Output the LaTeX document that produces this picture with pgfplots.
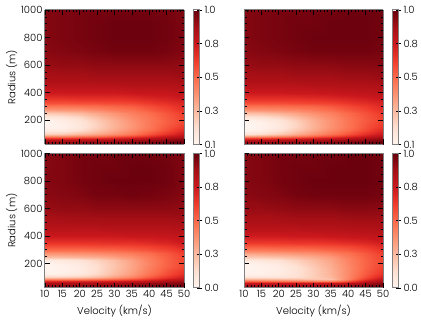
\documentclass[border=0pt]{standalone}
\usepackage{fontspec}
\setmainfont{Poppins Light}
\usepackage{pgfplots}
\pgfplotsset{compat=1.18}

\pgfplotsset{
  colormap={reds}{rgb255=(255,245,240) rgb255=(254,224,210) rgb255=(252,187,161) rgb255=(252,146,114) rgb255=(251,106,74) rgb255=(239,59,44) rgb255=(203,24,29) rgb255=(165,15,21) rgb255=(103,0,13)},
  panel/.style={
    scale only axis, width=139pt, height=134.5pt, anchor=south west,
    view={0}{90}, colormap name=reds,
    xmin=10, xmax=50, ymin=22, ymax=1000,
    xtick={10,15,...,50}, ytick={200,400,...,1000},
    minor x tick num=4, minor y tick num=3,
    tick align=inside, tick pos=both,
    major tick length=5pt, minor tick length=2.5pt,
    tick style={black, line width=0.6pt},
    axis line style={gray, line width=1pt},
    axis on top,
    tick label style={font=\fontsize{10}{10}\selectfont},
    label style={font=\fontsize{10}{10}\selectfont},
    /pgf/number format/assume math mode=true,
    /pgf/number format/1000 sep={},
    xticklabel style={yshift=1pt},
    yticklabel style={xshift=1pt},
    ylabel shift=-3pt,
    colorbar,
  },
  cbar/.style 2 args={
    colorbar style={
      at={(parent axis.north east)}, anchor=north west,
      width=6.5pt, xshift=0.5pt,
      ytick={#1}, yticklabels={#2},
      tick pos=right, tick align=center, major tick length=5pt,
      tick style={black, line width=0.6pt},
      axis line style={gray, line width=1pt},
      yticklabel style={font=\fontsize{10}{10}\selectfont, xshift=-1pt},
    },
  },
}

\begin{document}
\begin{tikzpicture}[x=1pt,y=1pt]
\path[use as bounding box] (0,0) rectangle (421,321);

\begin{axis}[panel, at={(45pt,176.5pt)}, xticklabels={}, ylabel={Radius (m)}, point meta min=0.1, point meta max=1,
  cbar={0.1,0.325,0.55,0.775,1}{0.1,0.3,0.5,0.8,1.0}]
\addplot3[surf, shader=interp, mesh/cols=9, point meta=z] coordinates {
(10,22,.93) (15,22,.93) (20,22,.93) (25,22,.94) (30,22,.95) (35,22,.96) (40,22,.97) (45,22,.99) (50,22,1)
(10,40,.91) (15,40,.91) (20,40,.91) (25,40,.92) (30,40,.93) (35,40,.94) (40,40,.95) (45,40,.97) (50,40,.99)
(10,55,.84) (15,55,.84) (20,55,.85) (25,55,.86) (30,55,.87) (35,55,.89) (40,55,.91) (45,55,.93) (50,55,.96)
(10,70,.66) (15,70,.66) (20,70,.68) (25,70,.70) (30,70,.73) (35,70,.77) (40,70,.82) (45,70,.87) (50,70,.91)
(10,85,.44) (15,85,.44) (20,85,.48) (25,85,.51) (30,85,.57) (35,85,.62) (40,85,.69) (45,85,.77) (50,85,.84)
(10,100,.26) (15,100,.28) (20,100,.33) (25,100,.38) (30,100,.44) (35,100,.51) (40,100,.60) (45,100,.69) (50,100,.78)
(10,125,.14) (15,125,.15) (20,125,.21) (25,125,.29) (30,125,.37) (35,125,.45) (40,125,.53) (45,125,.62) (50,125,.71)
(10,150,.11) (15,150,.13) (20,150,.18) (25,150,.26) (30,150,.35) (35,150,.43) (40,150,.51) (45,150,.60) (50,150,.67)
(10,175,.10) (15,175,.13) (20,175,.18) (25,175,.26) (30,175,.35) (35,175,.43) (40,175,.51) (45,175,.58) (50,175,.64)
(10,200,.11) (15,200,.15) (20,200,.20) (25,200,.28) (30,200,.36) (35,200,.44) (40,200,.51) (45,200,.58) (50,200,.64)
(10,225,.17) (15,225,.20) (20,225,.24) (25,225,.32) (30,225,.39) (35,225,.46) (40,225,.52) (45,225,.59) (50,225,.65)
(10,250,.28) (15,250,.30) (20,250,.33) (25,250,.38) (30,250,.43) (35,250,.49) (40,250,.54) (45,250,.60) (50,250,.66)
(10,275,.41) (15,275,.42) (20,275,.43) (25,275,.46) (30,275,.50) (35,275,.53) (40,275,.58) (45,275,.63) (50,275,.69)
(10,300,.52) (15,300,.52) (20,300,.53) (25,300,.54) (30,300,.56) (35,300,.58) (40,300,.62) (45,300,.66) (50,300,.71)
(10,325,.61) (15,325,.61) (20,325,.62) (25,325,.62) (30,325,.63) (35,325,.64) (40,325,.67) (45,325,.70) (50,325,.73)
(10,350,.68) (15,350,.68) (20,350,.69) (25,350,.69) (30,350,.69) (35,350,.70) (40,350,.72) (45,350,.74) (50,350,.77)
(10,400,.77) (15,400,.77) (20,400,.77) (25,400,.77) (30,400,.77) (35,400,.78) (40,400,.79) (45,400,.79) (50,400,.81)
(10,450,.83) (15,450,.83) (20,450,.83) (25,450,.83) (30,450,.83) (35,450,.84) (40,450,.84) (45,450,.84) (50,450,.85)
(10,500,.87) (15,500,.87) (20,500,.87) (25,500,.88) (30,500,.88) (35,500,.88) (40,500,.88) (45,500,.88) (50,500,.89)
(10,600,.91) (15,600,.92) (20,600,.92) (25,600,.93) (30,600,.93) (35,600,.93) (40,600,.93) (45,600,.93) (50,600,.92)
(10,700,.94) (15,700,.95) (20,700,.96) (25,700,.97) (30,700,.98) (35,700,.98) (40,700,.98) (45,700,.97) (50,700,.95)
(10,800,.95) (15,800,.96) (20,800,.97) (25,800,.98) (30,800,.99) (35,800,.99) (40,800,.99) (45,800,.98) (50,800,.96)
(10,900,.95) (15,900,.96) (20,900,.97) (25,900,.98) (30,900,.99) (35,900,.99) (40,900,.99) (45,900,.98) (50,900,.96)
(10,1000,.95) (15,1000,.96) (20,1000,.97) (25,1000,.97) (30,1000,.98) (35,1000,.98) (40,1000,.98) (45,1000,.97) (50,1000,.96)
};
\end{axis}

\begin{axis}[panel, at={(244pt,176.5pt)}, xticklabels={}, yticklabels={}, point meta min=0.1, point meta max=1,
  cbar={0.1,0.325,0.55,0.775,1}{0.1,0.3,0.5,0.8,1.0}]
\addplot3[surf, shader=interp, mesh/cols=9, point meta=z] coordinates {
(10,22,.93) (15,22,.93) (20,22,.94) (25,22,.94) (30,22,.95) (35,22,.96) (40,22,.97) (45,22,.99) (50,22,1)
(10,40,.91) (15,40,.91) (20,40,.91) (25,40,.92) (30,40,.93) (35,40,.94) (40,40,.96) (45,40,.97) (50,40,.99)
(10,55,.83) (15,55,.84) (20,55,.85) (25,55,.86) (30,55,.87) (35,55,.89) (40,55,.91) (45,55,.93) (50,55,.96)
(10,70,.64) (15,70,.65) (20,70,.67) (25,70,.69) (30,70,.73) (35,70,.77) (40,70,.82) (45,70,.87) (50,70,.91)
(10,85,.38) (15,85,.40) (20,85,.44) (25,85,.49) (30,85,.55) (35,85,.62) (40,85,.69) (45,85,.77) (50,85,.84)
(10,100,.18) (15,100,.22) (20,100,.28) (25,100,.36) (30,100,.44) (35,100,.52) (40,100,.60) (45,100,.70) (50,100,.78)
(10,125,.11) (15,125,.13) (20,125,.19) (25,125,.28) (30,125,.37) (35,125,.46) (40,125,.54) (45,125,.63) (50,125,.72)
(10,150,.10) (15,150,.12) (20,150,.17) (25,150,.25) (30,150,.35) (35,150,.44) (40,150,.52) (45,150,.61) (50,150,.68)
(10,175,.10) (15,175,.12) (20,175,.17) (25,175,.25) (30,175,.35) (35,175,.44) (40,175,.52) (45,175,.60) (50,175,.66)
(10,200,.12) (15,200,.15) (20,200,.19) (25,200,.27) (30,200,.36) (35,200,.44) (40,200,.52) (45,200,.59) (50,200,.65)
(10,225,.19) (15,225,.21) (20,225,.25) (25,225,.32) (30,225,.39) (35,225,.46) (40,225,.53) (45,225,.60) (50,225,.66)
(10,250,.31) (15,250,.32) (20,250,.35) (25,250,.39) (30,250,.44) (35,250,.49) (40,250,.55) (45,250,.61) (50,250,.67)
(10,275,.43) (15,275,.44) (20,275,.45) (25,275,.47) (30,275,.50) (35,275,.54) (40,275,.59) (45,275,.64) (50,275,.70)
(10,300,.53) (15,300,.53) (20,300,.54) (25,300,.55) (30,300,.56) (35,300,.59) (40,300,.63) (45,300,.67) (50,300,.72)
(10,325,.62) (15,325,.62) (20,325,.62) (25,325,.63) (30,325,.64) (35,325,.65) (40,325,.68) (45,325,.71) (50,325,.74)
(10,350,.69) (15,350,.69) (20,350,.69) (25,350,.69) (30,350,.70) (35,350,.71) (40,350,.73) (45,350,.75) (50,350,.78)
(10,400,.77) (15,400,.77) (20,400,.77) (25,400,.78) (30,400,.78) (35,400,.79) (40,400,.80) (45,400,.81) (50,400,.82)
(10,450,.83) (15,450,.83) (20,450,.83) (25,450,.83) (30,450,.84) (35,450,.84) (40,450,.85) (45,450,.85) (50,450,.86)
(10,500,.87) (15,500,.87) (20,500,.87) (25,500,.88) (30,500,.88) (35,500,.88) (40,500,.89) (45,500,.89) (50,500,.90)
(10,600,.91) (15,600,.92) (20,600,.92) (25,600,.93) (30,600,.93) (35,600,.93) (40,600,.94) (45,600,.94) (50,600,.94)
(10,700,.94) (15,700,.95) (20,700,.96) (25,700,.97) (30,700,.98) (35,700,.98) (40,700,.98) (45,700,.98) (50,700,.97)
(10,800,.95) (15,800,.96) (20,800,.97) (25,800,.98) (30,800,.99) (35,800,.99) (40,800,.99) (45,800,.99) (50,800,.98)
(10,900,.95) (15,900,.96) (20,900,.97) (25,900,.98) (30,900,.98) (35,900,.99) (40,900,.99) (45,900,.99) (50,900,.98)
(10,1000,.95) (15,1000,.96) (20,1000,.97) (25,1000,.97) (30,1000,.98) (35,1000,.98) (40,1000,.99) (45,1000,.99) (50,1000,.98)
};
\end{axis}

\begin{axis}[panel, at={(45pt,33pt)}, xlabel={Velocity (km/s)}, ylabel={Radius (m)}, point meta min=0, point meta max=1,
  cbar={0,0.25,0.5,0.75,1}{0.0,0.3,0.5,0.8,1.0}]
\addplot3[surf, shader=interp, mesh/cols=9, point meta=z] coordinates {
(10,22,.93) (15,22,.93) (20,22,.93) (25,22,.94) (30,22,.95) (35,22,.96) (40,22,.97) (45,22,.98) (50,22,.99)
(10,40,.91) (15,40,.91) (20,40,.91) (25,40,.92) (30,40,.93) (35,40,.94) (40,40,.95) (45,40,.97) (50,40,.98)
(10,55,.85) (15,55,.85) (20,55,.85) (25,55,.86) (30,55,.87) (35,55,.89) (40,55,.91) (45,55,.93) (50,55,.95)
(10,70,.68) (15,70,.68) (20,70,.69) (25,70,.70) (30,70,.72) (35,70,.75) (40,70,.79) (45,70,.85) (50,70,.89)
(10,85,.40) (15,85,.40) (20,85,.42) (25,85,.45) (30,85,.50) (35,85,.56) (40,85,.64) (45,85,.73) (50,85,.80)
(10,100,.17) (15,100,.18) (20,100,.20) (25,100,.25) (30,100,.33) (35,100,.42) (40,100,.53) (45,100,.64) (50,100,.73)
(10,125,.03) (15,125,.04) (20,125,.08) (25,125,.15) (30,125,.25) (35,125,.35) (40,125,.47) (45,125,.58) (50,125,.67)
(10,150,.01) (15,150,.02) (20,150,.06) (25,150,.13) (30,150,.23) (35,150,.33) (40,150,.44) (45,150,.55) (50,150,.63)
(10,175,0) (15,175,.02) (20,175,.06) (25,175,.13) (30,175,.22) (35,175,.32) (40,175,.43) (45,175,.53) (50,175,.60)
(10,200,.01) (15,200,.03) (20,200,.07) (25,200,.14) (30,200,.22) (35,200,.32) (40,200,.42) (45,200,.52) (50,200,.60)
(10,225,.06) (15,225,.08) (20,225,.11) (25,225,.17) (30,225,.24) (35,225,.33) (40,225,.43) (45,225,.52) (50,225,.60)
(10,250,.24) (15,250,.25) (20,250,.27) (25,250,.29) (30,250,.33) (35,250,.38) (40,250,.45) (45,250,.53) (50,250,.60)
(10,275,.38) (15,275,.38) (20,275,.39) (25,275,.40) (30,275,.42) (35,275,.45) (40,275,.49) (45,275,.55) (50,275,.62)
(10,300,.49) (15,300,.49) (20,300,.49) (25,300,.50) (30,300,.51) (35,300,.53) (40,300,.56) (45,300,.60) (50,300,.65)
(10,325,.58) (15,325,.58) (20,325,.58) (25,325,.59) (30,325,.59) (35,325,.60) (40,325,.62) (45,325,.65) (50,325,.70)
(10,350,.65) (15,350,.65) (20,350,.65) (25,350,.65) (30,350,.66) (35,350,.66) (40,350,.68) (45,350,.70) (50,350,.74)
(10,400,.75) (15,400,.75) (20,400,.75) (25,400,.75) (30,400,.75) (35,400,.76) (40,400,.76) (45,400,.77) (50,400,.79)
(10,450,.81) (15,450,.81) (20,450,.81) (25,450,.81) (30,450,.82) (35,450,.82) (40,450,.82) (45,450,.82) (50,450,.83)
(10,500,.85) (15,500,.85) (20,500,.86) (25,500,.86) (30,500,.86) (35,500,.86) (40,500,.86) (45,500,.86) (50,500,.87)
(10,600,.90) (15,600,.91) (20,600,.91) (25,600,.92) (30,600,.92) (35,600,.92) (40,600,.92) (45,600,.92) (50,600,.91)
(10,700,.93) (15,700,.94) (20,700,.95) (25,700,.97) (30,700,.97) (35,700,.98) (40,700,.97) (45,700,.96) (50,700,.94)
(10,800,.94) (15,800,.95) (20,800,.97) (25,800,.98) (30,800,.99) (35,800,.99) (40,800,.99) (45,800,.98) (50,800,.95)
(10,900,.94) (15,900,.95) (20,900,.97) (25,900,.98) (30,900,.98) (35,900,.99) (40,900,.99) (45,900,.98) (50,900,.95)
(10,1000,.94) (15,1000,.95) (20,1000,.97) (25,1000,.97) (30,1000,.98) (35,1000,.98) (40,1000,.98) (45,1000,.97) (50,1000,.95)
};
\end{axis}

\begin{axis}[panel, at={(244pt,33pt)}, xlabel={Velocity (km/s)}, yticklabels={}, point meta min=0, point meta max=1,
  cbar={0,0.25,0.5,0.75,1}{0.0,0.3,0.5,0.8,1.0}]
\addplot3[surf, shader=interp, mesh/cols=9, point meta=z] coordinates {
(10,22,.92) (15,22,.92) (20,22,.92) (25,22,.93) (30,22,.93) (35,22,.94) (40,22,.95) (45,22,.97) (50,22,1)
(10,40,.89) (15,40,.89) (20,40,.89) (25,40,.89) (30,40,.89) (35,40,.90) (40,40,.91) (45,40,.95) (50,40,.98)
(10,55,.76) (15,55,.76) (20,55,.76) (25,55,.76) (30,55,.76) (35,55,.77) (40,55,.81) (45,55,.88) (50,55,.94)
(10,70,.50) (15,70,.48) (20,70,.46) (25,70,.44) (30,70,.42) (35,70,.42) (40,70,.55) (45,70,.76) (50,70,.87)
(10,85,.27) (15,85,.26) (20,85,.25) (25,85,.24) (30,85,.22) (35,85,.23) (40,85,.42) (45,85,.64) (50,85,.80)
(10,100,.10) (15,100,.10) (20,100,.10) (25,100,.13) (30,100,.19) (35,100,.26) (40,100,.40) (45,100,.58) (50,100,.72)
(10,125,.02) (15,125,.03) (20,125,.06) (25,125,.11) (30,125,.19) (35,125,.28) (40,125,.40) (45,125,.55) (50,125,.66)
(10,150,.01) (15,150,.02) (20,150,.05) (25,150,.11) (30,150,.19) (35,150,.28) (40,150,.40) (45,150,.53) (50,150,.63)
(10,175,0) (15,175,.02) (20,175,.05) (25,175,.11) (30,175,.20) (35,175,.29) (40,175,.40) (45,175,.52) (50,175,.61)
(10,200,.01) (15,200,.03) (20,200,.07) (25,200,.14) (30,200,.22) (35,200,.30) (40,200,.41) (45,200,.52) (50,200,.60)
(10,225,.08) (15,225,.09) (20,225,.12) (25,225,.18) (30,225,.25) (35,225,.32) (40,225,.42) (45,225,.52) (50,225,.60)
(10,250,.20) (15,250,.21) (20,250,.23) (25,250,.26) (30,250,.30) (35,250,.35) (40,250,.44) (45,250,.53) (50,250,.60)
(10,275,.33) (15,275,.34) (20,275,.35) (25,275,.37) (30,275,.39) (35,275,.43) (40,275,.48) (45,275,.55) (50,275,.62)
(10,300,.45) (15,300,.45) (20,300,.46) (25,300,.47) (30,300,.48) (35,300,.51) (40,300,.54) (45,300,.59) (50,300,.65)
(10,325,.55) (15,325,.55) (20,325,.56) (25,325,.56) (30,325,.57) (35,325,.58) (40,325,.60) (45,325,.64) (50,325,.69)
(10,350,.63) (15,350,.63) (20,350,.63) (25,350,.64) (30,350,.64) (35,350,.65) (40,350,.67) (45,350,.69) (50,350,.73)
(10,400,.74) (15,400,.74) (20,400,.74) (25,400,.75) (30,400,.75) (35,400,.76) (40,400,.77) (45,400,.78) (50,400,.79)
(10,450,.81) (15,450,.81) (20,450,.81) (25,450,.81) (30,450,.82) (35,450,.82) (40,450,.83) (45,450,.83) (50,450,.84)
(10,500,.85) (15,500,.85) (20,500,.85) (25,500,.86) (30,500,.86) (35,500,.86) (40,500,.87) (45,500,.87) (50,500,.87)
(10,600,.90) (15,600,.90) (20,600,.91) (25,600,.92) (30,600,.92) (35,600,.92) (40,600,.93) (45,600,.93) (50,600,.92)
(10,700,.93) (15,700,.94) (20,700,.95) (25,700,.97) (30,700,.98) (35,700,.98) (40,700,.98) (45,700,.98) (50,700,.97)
(10,800,.94) (15,800,.95) (20,800,.97) (25,800,.98) (30,800,.99) (35,800,.99) (40,800,.99) (45,800,.99) (50,800,.98)
(10,900,.94) (15,900,.95) (20,900,.97) (25,900,.98) (30,900,.98) (35,900,.99) (40,900,.99) (45,900,.99) (50,900,.98)
(10,1000,.94) (15,1000,.95) (20,1000,.97) (25,1000,.97) (30,1000,.98) (35,1000,.98) (40,1000,.99) (45,1000,.99) (50,1000,.97)
};
\end{axis}
\end{tikzpicture}
\end{document}
